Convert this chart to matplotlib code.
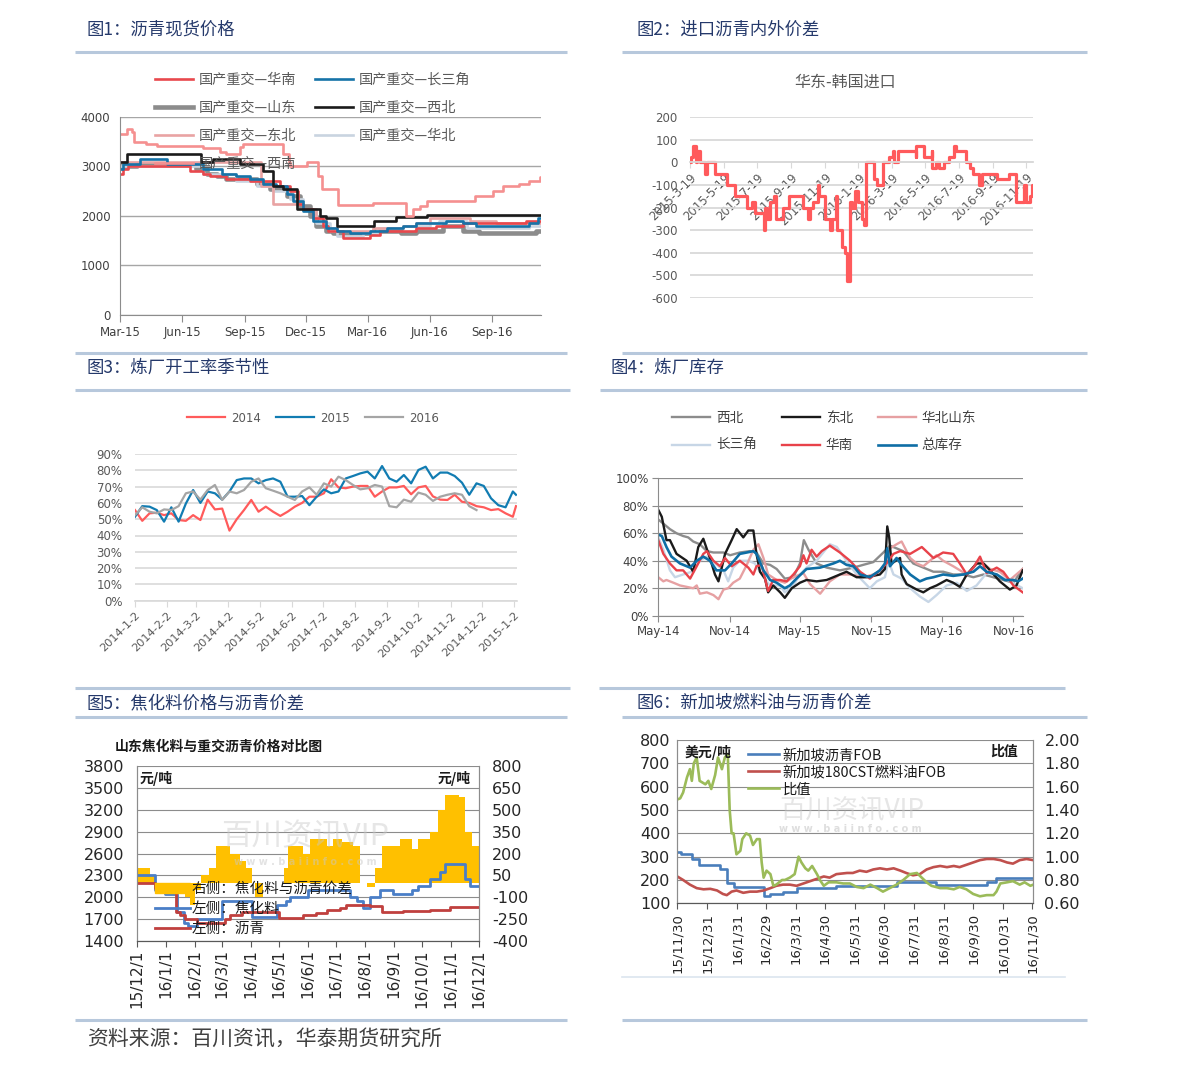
import numpy as np
import matplotlib
matplotlib.use('Agg')
import matplotlib.pyplot as plt
from matplotlib.lines import Line2D
from matplotlib.patches import Patch

plt.rcParams['font.family'] = ['DejaVu Sans', 'Noto Sans CJK SC']
plt.rcParams['axes.unicode_minus'] = False
CJK = ['Noto Sans CJK SC', 'DejaVu Sans']

W, H = 1191, 1069

# ---------------- Fig 1: 沥青现货价格 (days since 2015-03-01, step series) ----------------
p1_base = '2015-03-01'
p1_end = 622
p1_hn_d = [0,5,12,103,123,133,157,192,236,251,263,271,285,300,307,330,369,384,438,467,507,600]
p1_hn_v = [2850,2950,3000,2900,2850,2800,2750,2700,2600,2500,2250,2150,1950,1800,1700,1550,1620,1700,1750,1800,1850,1900]
p1_csj_d = [0,5,30,69,123,150,172,192,212,231,246,256,271,285,305,320,340,369,394,418,438,482,507,526,605,618]
p1_csj_v = [2950,3050,3150,3050,2950,2850,2800,2750,2650,2600,2450,2300,2100,1900,1750,1700,1650,1700,1750,1800,1850,1900,1850,1800,1850,1950]
p1_sd_d = [0,25,113,128,143,157,202,221,246,266,280,290,305,315,374,415,438,477,507,531,615]
p1_sd_v = [3000,3050,2950,2850,2800,2750,2650,2550,2400,2200,2000,1800,1700,1650,1700,1650,1700,1800,1700,1650,1700]
p1_xb_d = [0,10,120,138,177,212,226,241,261,295,305,320,376,408,453]
p1_xb_v = [3100,3250,3100,3150,3050,2900,2600,2550,2150,2000,1950,1800,1900,1980,2030]
p1_db_d = [0,209,226,271,290,305,320,374,418,438,458,517,556]
p1_db_v = [3100,2600,2250,2150,1950,1750,1700,1750,1800,1850,1950,1900,1850]
p1_hb_d = [0,123,172,202,226,251,271,290,310,320,359,379,418,458,472,512,605]
p1_hb_v = [3000,2850,2700,2600,2500,2350,2150,1850,1700,1600,1650,1750,1800,1850,1900,1750,1800]
p1_xn_d = [0,10,17,20,39,54,123,148,157,177,182,241,249,251,276,292,298,322,374,423,433,443,453,524,551,566,590,605,620]
p1_xn_v = [3650,3750,3700,3500,3450,3420,3380,3300,3250,3400,3450,3250,3100,3000,3100,2800,2550,2230,2270,2000,2150,2200,2300,2400,2500,2600,2650,2700,2780]
p1_ticks = ['2015-03-01','2015-06-01','2015-09-01','2015-12-01','2016-03-01','2016-06-01','2016-09-01']
p1_ticklabels = ['Mar-15','Jun-15','Sep-15','Dec-15','Mar-16','Jun-16','Sep-16']

# ---------------- Fig 2: 华东-韩国进口 (days since 2015-03-19) ----------------
p2_base = '2015-03-19'
p2_end = 623
p2_d = [0,1,6,11,13,18,27,31,45,68,82,103,112,118,134,137,139,145,152,157,169,180,206,215,218,224,232,235,245,255,258,265,267,276,282,286,290,295,300,306,312,316,319,334,339,351,362,368,370,378,410,411,425,439,440,447,453,461,471,480,483,501,509,514,525,531,557,580,593,607,611,617,621]
p2_v = [0,25,75,0,50,0,-50,0,-50,-100,-150,-200,-175,-225,-300,-200,-250,-175,-150,-250,-200,-150,-200,-250,-200,-175,-100,-150,-250,-300,-250,-150,-300,-375,-400,-525,-175,-200,-125,-175,-250,-275,0,-75,-100,0,25,50,0,50,25,75,25,50,-25,0,-25,0,25,75,50,0,-25,-50,-100,-50,-75,-50,-175,-100,-175,-150,-100]
p2_last = -125
p2_ticks = ['2015-03-19','2015-05-19','2015-07-19','2015-09-19','2015-11-19','2016-01-19','2016-03-19','2016-05-19','2016-07-19','2016-09-19','2016-11-19']
p2_ticklabels = ['2015-3-19','2015-5-19','2015-7-19','2015-9-19','2015-11-19','2016-1-19','2016-3-19','2016-5-19','2016-7-19','2016-9-19','2016-11-19']

# ---------------- Fig 3: 开工率 (weekly from 2014-01-02, %) ----------------
p3_base = '2014-01-02'
p3_2014 = [55.6,49,53.6,54,52.5,53.6,49.5,49,52.5,49.5,62,56,56.5,43,50,55.6,61.8,54.6,57.7,54.6,52,54.6,57.7,60,63.8,63.8,65.9,74.5,69.5,69,70,70.4,70.4,63.8,67,69.5,69.5,70.4,65.3,69.5,70.4,64,62,61.8,65,60.7,60,58,57.3,55.6,56.2,53.6,51.5,58]
p3_2015 = [51.5,58,57.7,55.6,48.5,57.3,48.5,59.6,67.9,60,67,65.9,62,67,74,75,75,72,74,75,73,63.8,63.8,64.2,58.6,63.8,68.3,65.9,67,75,76.5,78.1,79.2,75,82.6,75,73,77.1,72,80.2,82.2,75,78.6,78.6,76.5,72.4,65,72,70.4,62.8,58.6,57.3,67,65]
p3_2016 = [52.5,57.3,54.6,53.6,56,55.6,58,65.9,67,62,67.9,71,61.8,67,65.9,67.9,73,75,69,67.5,65.9,63.8,61.8,67,69.5,65,72,70,76.1,74,71,68.3,69,71,70,58,57.3,62,60.7,66.3,65,61.2,63.8,65,65.9,65,58,55.6]
p3_ticks = ['2014-01-02','2014-02-02','2014-03-02','2014-04-02','2014-05-02','2014-06-02','2014-07-02','2014-08-02','2014-09-02','2014-10-02','2014-11-02','2014-12-02','2015-01-02']
p3_ticklabels = ['2014-1-2','2014-2-2','2014-3-2','2014-4-2','2014-5-2','2014-6-2','2014-7-2','2014-8-2','2014-9-2','2014-10-2','2014-11-2','2014-12-2','2015-1-2']
p3_yticks = [0,10,20,30,40,50,60,70,80,90]

# ---------------- Fig 4: 炼厂库存 (days since 2014-05-01, %) ----------------
p4_base = '2014-05-01'
p4_end = 939
p4_xb_d = [0,13,30,47,64,77,90,107,125,142,168,185,210,236,253,271,288,305,326,348,365,375,387,408,434,468,503,528,554,580,597,614,631,657,683,709,734,760,786,812,838,863,889,915,939]
p4_xb_v = [70,67,63,60,58,57,54,52,47,46,46,44,46,47,46,38,37,34,27,28,38,55,48,38,35,33,35,37,39,46,51,49,47,38,35,32,32,30,30,28,30,28,26,24,34]
p4_db_d = [0,9,21,30,47,73,90,103,116,133,146,155,172,189,202,219,232,245,253,262,275,283,296,314,326,344,365,382,408,434,468,485,511,537,571,584,590,595,601,623,627,640,666,683,700,717,743,760,777,795,820,838,855,880,906,923,939]
p4_db_v = [77,72,55,55,45,40,32,50,56,42,30,25,45,55,63,57,62,62,45,32,27,17,22,17,13,20,24,26,25,26,30,32,28,28,30,34,65,57,38,42,30,23,19,17,20,22,26,24,21,30,38,38,33,25,19,22,33]
p4_hbsd_d = [0,13,21,39,56,73,90,99,107,125,142,155,168,180,193,210,228,245,258,271,283,305,326,348,374,391,417,442,468,494,528,554,580,597,614,627,649,666,683,700,717,734,760,795,829,855,880,906,939]
p4_hbsd_v = [28,25,26,24,22,21,20,22,16,17,15,12,19,20,24,27,37,48,52,42,30,26,24,28,31,23,16,25,30,30,28,30,34,49,52,54,42,38,36,40,44,40,36,30,40,34,32,26,34]
p4_csj_d = [0,13,30,43,64,86,107,125,146,168,180,193,210,232,249,271,288,314,326,348,365,382,408,442,460,485,511,545,563,584,593,606,627,649,674,696,717,743,769,795,820,846,872,906,939]
p4_csj_v = [57,48,33,28,30,32,40,43,38,33,25,35,40,40,38,28,22,22,17,22,30,35,40,52,50,40,30,20,25,28,40,30,27,20,14,10,15,22,24,18,22,31,30,25,20]
p4_hn_d = [0,13,30,47,64,82,99,116,125,142,159,172,189,210,232,245,253,266,283,296,314,331,348,365,374,382,395,408,421,442,468,494,520,545,567,588,606,623,649,679,709,734,760,777,795,812,829,846,872,889,915,939]
p4_hn_v = [55,45,38,33,33,27,36,45,47,40,36,42,36,40,35,30,36,37,18,26,26,25,30,36,44,38,48,43,47,51,46,40,32,27,32,38,45,47,45,50,42,46,45,38,30,35,43,31,35,32,22,17]
p4_zk_d = [0,9,21,34,56,82,99,116,133,150,172,189,210,228,245,253,271,288,305,326,339,356,382,417,451,468,485,503,520,545,571,584,590,597,614,627,649,674,691,709,734,760,786,812,829,846,872,893,915,927,939]
p4_zk_v = [59,58,50,43,38,35,40,43,40,33,33,38,45,46,47,45,33,26,24,20,22,27,34,35,38,40,37,36,30,28,33,38,49,36,42,37,30,25,27,28,30,29,30,32,36,32,30,26,26,25,27]
p4_ticks = ['2014-05-01','2014-11-01','2015-05-01','2015-11-01','2016-05-01','2016-11-01']
p4_ticklabels = ['May-14','Nov-14','May-15','Nov-15','May-16','Nov-16']
p4_yticks = [0,20,40,60,80,100]

# ---------------- Fig 5: 山东焦化料与重交沥青 (days since 2015-12-01) ----------------
p5_base = '2015-12-01'
p5_end = 366
p5_lq_d = [0,20,42,46,52,64,94,100,112,152,178,192,203,217,224,249,262,285,313,335]
p5_lq_v = [2200,2130,1800,1750,1700,1650,1700,1750,1800,1720,1750,1780,1820,1850,1900,1880,1800,1810,1830,1860]
p5_jhl_d = [0,20,30,43,50,55,64,91,123,150,160,164,183,228,235,242,249,260,274,294,301,313,324,329,351,356]
p5_jhl_v = [2300,2100,2050,1800,1650,1600,1700,1950,1730,1900,1950,2000,2100,2000,1950,1850,2000,2100,2050,2100,2150,2250,2350,2450,2250,2150]
p5_jc_d = [0,14,21,46,52,57,62,69,77,85,100,110,117,123,126,135,150,157,162,178,185,203,210,219,231,239,246,255,262,281,294,301,313,322,329,344,351,358]
p5_jc_v = [100,50,-50,-10,-100,-150,-50,50,100,250,200,150,100,0,-100,0,0,100,250,200,300,250,300,280,250,0,-30,100,250,300,230,300,350,500,600,590,350,250]
p5_ticks = ['2015-12-01','2016-01-01','2016-02-01','2016-03-01','2016-04-01','2016-05-01','2016-06-01','2016-07-01','2016-08-01','2016-09-01','2016-10-01','2016-11-01','2016-12-01']
p5_ticklabels = ['15/12/1','16/1/1','16/2/1','16/3/1','16/4/1','16/5/1','16/6/1','16/7/1','16/8/1','16/9/1','16/10/1','16/11/1','16/12/1']
p5_left_ticks = [1400,1700,2000,2300,2600,2900,3200,3500,3800]
p5_right_ticks = [-400,-250,-100,50,200,350,500,650,800]

# ---------------- Fig 6: 新加坡 (days since 2015-11-30) ----------------
p6_base = '2015-11-30'
p6_end = 367
p6_lq_d = [0,4,15,22,44,51,58,89,96,109,123,164,226,267,319,329]
p6_lq_v = [320,310,290,265,245,185,170,130,140,150,165,175,190,180,190,210]
p6_ry_d = [0,6,13,20,27,34,41,47,51,56,61,68,75,82,89,96,102,109,116,123,130,137,144,151,157,164,175,181,188,195,202,209,216,223,230,236,243,250,257,264,271,278,285,291,298,305,312,319,326,333,340,346,353,360,367]
p6_ry_v = [215,200,180,165,160,162,155,140,135,150,155,145,150,150,155,165,175,180,180,175,185,195,205,215,210,225,230,230,240,235,245,250,245,250,240,230,220,225,245,255,260,255,260,255,265,275,285,290,290,285,275,270,285,290,285]
p6_bz_d = [0,3,6,10,13,15,17,20,23,29,32,35,39,42,46,49,52,54,56,58,61,65,67,71,75,78,82,85,87,89,92,96,99,102,108,111,116,121,125,128,132,135,139,144,147,151,156,164,171,178,185,192,199,206,212,219,226,233,240,247,252,257,262,271,278,285,291,298,305,312,319,326,329,333,340,346,353,358,364,367]
p6_bz_v = [1.49,1.50,1.55,1.68,1.75,1.65,1.80,1.85,1.65,1.62,1.65,1.58,1.70,1.85,1.75,1.85,1.88,1.40,1.20,1.20,1.02,1.05,1.15,1.20,1.18,1.10,1.15,1.15,0.95,0.82,0.88,0.85,0.75,0.76,0.80,0.80,0.82,0.85,1.00,0.95,0.90,0.88,0.92,0.85,0.80,0.75,0.78,0.78,0.77,0.77,0.74,0.73,0.76,0.73,0.70,0.73,0.76,0.80,0.85,0.86,0.82,0.78,0.75,0.73,0.73,0.72,0.74,0.72,0.68,0.66,0.67,0.67,0.70,0.77,0.78,0.79,0.76,0.78,0.75,0.76]
p6_ticks = ['2015-11-30','2015-12-31','2016-01-31','2016-02-29','2016-03-31','2016-04-30','2016-05-31','2016-06-30','2016-07-31','2016-08-31','2016-09-30','2016-10-31','2016-11-30']
p6_ticklabels = ['15/11/30','15/12/31','16/1/31','16/2/29','16/3/31','16/4/30','16/5/31','16/6/30','16/7/31','16/8/31','16/9/30','16/10/31','16/11/30']
p6_left_ticks = [100,200,300,400,500,600,700,800]
p6_right_ticks = [0.6,0.8,1.0,1.2,1.4,1.6,1.8,2.0]


# ---------------- helpers ----------------
def R(l, t, r, b):
    return [l / W, 1 - b / H, (r - l) / W, (b - t) / H]

def FX(x):
    return x / W

def FY(y):
    return 1 - y / H

def dates(base, days):
    return np.datetime64(base, 'D') + np.asarray(days, dtype=int).astype('timedelta64[D]')

def tickdates(lst):
    return np.array(lst, dtype='datetime64[D]')

def step(ax, base, d, v, end, last=None, **kw):
    vv = list(v) + [v[-1] if last is None else last]
    return ax.plot(dates(base, list(d) + [end]), vv, drawstyle='steps-post', **kw)[0]


fig = plt.figure(figsize=(W / 100, H / 100), dpi=100)
fig.patch.set_facecolor('white')

NAVY = '#25396B'
SEP = '#B7C8DC'

# section titles
for x, y, s in [(87, 30, '图1：沥青现货价格'), (636, 30, '图2：进口沥青内外价差'),
                (87, 368, '图3：炼厂开工率季节性'), (611, 368, '图4：炼厂库存'),
                (87, 703, '图5：焦化料价格与沥青价差'), (636, 703, '图6：新加坡燃料油与沥青价差')]:
    fig.text(FX(x), FY(y), s, family=CJK, fontsize=12.5, color=NAVY, ha='left', va='center')

# separators
for y, x0, x1 in [(52, 75, 567), (52, 622, 1087), (353, 75, 567), (353, 622, 1087),
                  (390, 75, 570), (390, 600, 1087), (688, 75, 570), (688, 599, 1065),
                  (717, 75, 567), (717, 622, 1087), (1020, 75, 567), (1020, 622, 1087)]:
    fig.add_artist(Line2D([FX(x0), FX(x1)], [FY(y), FY(y)], transform=fig.transFigure,
                          color=SEP, lw=2.2, solid_capstyle='butt'))
fig.add_artist(Line2D([FX(622), FX(1065)], [FY(977), FY(977)], transform=fig.transFigure,
                      color='#DCE5EF', lw=1.2))

fig.text(FX(87), FY(1039), '资料来源：百川资讯，华泰期货研究所', family=CJK, fontsize=15,
         color='#404040', ha='left', va='center')

# ================= Fig 1 =================
ax1 = fig.add_axes(R(120, 117, 541, 315))
l_sd = step(ax1, p1_base, p1_sd_d, p1_sd_v, p1_end, color='#8C8C8C', lw=3.3)
l_hb = step(ax1, p1_base, p1_hb_d, p1_hb_v, p1_end, color='#C9D4E0', lw=1.9)
l_db = step(ax1, p1_base, p1_db_d, p1_db_v, p1_end, color='#E9A3A3', lw=1.9)
l_hn = step(ax1, p1_base, p1_hn_d, p1_hn_v, p1_end, color='#E8484D', lw=1.9)
l_csj = step(ax1, p1_base, p1_csj_d, p1_csj_v, p1_end, color='#1673A8', lw=1.9)
l_xb = step(ax1, p1_base, p1_xb_d, p1_xb_v, p1_end, color='#1A1A1A', lw=1.9)
l_xn = step(ax1, p1_base, p1_xn_d, p1_xn_v, p1_end, color='#F59090', lw=1.9)
ax1.set_ylim(0, 4000)
ax1.set_yticks([0, 1000, 2000, 3000, 4000])
ax1.set_xlim(dates(p1_base, [0])[0], dates(p1_base, [p1_end])[0])
ax1.set_xticks(tickdates(p1_ticks))
ax1.set_xticklabels(p1_ticklabels)
ax1.grid(axis='y', color='#A6A6A6', lw=1)
ax1.set_axisbelow(True)
for s in ['top', 'right']:
    ax1.spines[s].set_visible(False)
for s in ['left', 'bottom']:
    ax1.spines[s].set_color('#8C8C8C')
ax1.tick_params(axis='x', direction='out', length=5, color='#8C8C8C', labelsize=8.5, labelcolor='#404040', pad=3)
ax1.tick_params(axis='y', length=0, labelsize=8.5, labelcolor='#404040', pad=7)
ax1.legend([l_hn, l_sd, l_db, l_xn, l_csj, l_xb, l_hb],
           ['国产重交—华南', '国产重交—山东', '国产重交—东北', '国产重交—西南',
            '国产重交—长三角', '国产重交—西北', '国产重交—华北'],
           ncol=2, loc='upper left', bbox_to_anchor=(FX(155), FY(73)), bbox_transform=fig.transFigure,
           frameon=False, prop={'family': CJK, 'size': 10.2}, labelcolor='#595959',
           handlelength=2.7, handletextpad=0.4, columnspacing=1.3, labelspacing=0.98,
           borderpad=0, borderaxespad=0)

# ================= Fig 2 =================
fig.text(FX(845), FY(82), '华东-韩国进口', family=CJK, fontsize=11.5, color='#595959', ha='center', va='center')
ax2 = fig.add_axes(R(690, 117.3, 1033, 298))
step(ax2, p2_base, p2_d, p2_v, p2_end, last=p2_last, color='#FF5A5C', lw=2.3)
ax2.set_ylim(-600, 200)
ax2.set_yticks(np.arange(-600, 201, 100))
ax2.set_xlim(dates(p2_base, [0])[0], dates(p2_base, [p2_end])[0])
ax2.grid(axis='y', color='#D9D9D9', lw=1.3)
ax2.set_axisbelow(True)
for s in ['top', 'right', 'left']:
    ax2.spines[s].set_visible(False)
ax2.spines['bottom'].set_position(('data', 0))
ax2.spines['bottom'].set_color('#D9D9D9')
ax2.spines['bottom'].set_linewidth(1.3)
ax2.set_xticks(tickdates(p2_ticks))
ax2.set_xticklabels(p2_ticklabels, rotation=45, ha='right', rotation_mode='anchor')
ax2.tick_params(axis='x', direction='out', length=4, color='#D9D9D9', labelsize=8.4, labelcolor='#595959', pad=2)
ax2.tick_params(axis='y', length=0, labelsize=8.5, labelcolor='#595959', pad=9)

# ================= Fig 3 =================
ax3 = fig.add_axes(R(135, 454, 517, 600.7))
x14 = np.concatenate([dates(p3_base, np.arange(53) * 7), dates(p3_base, [367])])
x16 = dates(p3_base, np.arange(len(p3_2016)) * 7)
a14, = ax3.plot(x14, p3_2014, color='#FF5B5B', lw=1.6)
a15, = ax3.plot(x14, p3_2015, color='#117CB2', lw=1.6)
a16, = ax3.plot(x16, p3_2016, color='#A5A5A5', lw=1.6)
ax3.set_ylim(0, 90)
ax3.set_yticks(p3_yticks)
ax3.set_yticklabels([f'{v}%' for v in p3_yticks])
ax3.set_xlim(dates(p3_base, [0])[0], dates(p3_base, [368])[0])
ax3.set_xticks(tickdates(p3_ticks))
ax3.set_xticklabels(p3_ticklabels, rotation=45, ha='right', rotation_mode='anchor')
ax3.grid(axis='y', color='#D9D9D9', lw=1.2)
ax3.set_axisbelow(True)
for s in ['top', 'right', 'left']:
    ax3.spines[s].set_visible(False)
ax3.spines['bottom'].set_color('#D9D9D9')
ax3.spines['bottom'].set_linewidth(1.2)
ax3.tick_params(axis='x', direction='out', length=4, color='#D9D9D9', labelsize=8.2, labelcolor='#595959', pad=3)
ax3.tick_params(axis='y', length=0, labelsize=8.5, labelcolor='#595959', pad=9)
ax3.legend([a14, a15, a16], ['2014', '2015', '2016'], ncol=3, loc='center',
           bbox_to_anchor=(FX(313), FY(418)), bbox_transform=fig.transFigure, frameon=False,
           fontsize=8.5, labelcolor='#595959', handlelength=3.2, handletextpad=0.5,
           columnspacing=1.3, borderpad=0)

# ================= Fig 4 =================
ax4 = fig.add_axes(R(658.3, 478.3, 1022.7, 615.7))
b_xb, = ax4.plot(dates(p4_base, p4_xb_d), p4_xb_v, color='#8C8C8C', lw=1.7)
b_csj, = ax4.plot(dates(p4_base, p4_csj_d), p4_csj_v, color='#C7D6E6', lw=1.7)
b_hbsd, = ax4.plot(dates(p4_base, p4_hbsd_d), p4_hbsd_v, color='#E6A0A2', lw=1.7)
b_db, = ax4.plot(dates(p4_base, p4_db_d), p4_db_v, color='#1A1A1A', lw=1.7)
b_hn, = ax4.plot(dates(p4_base, p4_hn_d), p4_hn_v, color='#E8424A', lw=1.7)
b_zk, = ax4.plot(dates(p4_base, p4_zk_d), p4_zk_v, color='#0E6EA5', lw=1.9)
ax4.set_ylim(0, 100)
ax4.set_yticks(p4_yticks)
ax4.set_yticklabels([f'{v}%' for v in p4_yticks])
ax4.set_xlim(dates(p4_base, [0])[0], dates(p4_base, [p4_end])[0])
ax4.set_xticks(tickdates(p4_ticks))
ax4.set_xticklabels(p4_ticklabels)
ax4.grid(axis='y', color='#8C8C8C', lw=0.9)
ax4.set_axisbelow(True)
for s in ['top', 'right']:
    ax4.spines[s].set_visible(False)
for s in ['left', 'bottom']:
    ax4.spines[s].set_color('#8C8C8C')
ax4.tick_params(axis='both', direction='out', length=4, color='#8C8C8C', labelsize=8.5, labelcolor='#404040')
ax4.tick_params(axis='y', pad=3)
ax4.tick_params(axis='x', pad=3)
ax4.legend([b_xb, b_csj, b_db, b_hn, b_hbsd, b_zk], ['西北', '长三角', '东北', '华南', '华北山东', '总库存'],
           ncol=3, loc='upper left', bbox_to_anchor=(FX(672), FY(411)), bbox_transform=fig.transFigure,
           frameon=False, prop={'family': CJK, 'size': 9.8}, labelcolor='#404040',
           handlelength=2.8, handletextpad=0.45, columnspacing=1.8, labelspacing=0.98,
           borderpad=0, borderaxespad=0)

# ================= Fig 5 =================
fig.text(FX(115), FY(747), '山东焦化料与重交沥青价格对比图', family=CJK, fontsize=10, fontweight='bold',
         color='#1A1A1A', ha='left', va='center')
ax5 = fig.add_axes(R(136.7, 766, 479.3, 941))
ax5b = ax5.twinx()
ax5b.set_ylim(-400, 800)
ax5b.set_yticks(p5_right_ticks)
ax5b.grid(axis='y', color='#8C8C8C', lw=0.8)
ax5b.set_axisbelow(True)
ax5b.fill_between(dates(p5_base, p5_jc_d + [p5_end]), 0, p5_jc_v + [p5_jc_v[-1]], step='post',
                  color='#FFC000', lw=0, zorder=2)
ax5.set_zorder(ax5b.get_zorder() + 1)
ax5.patch.set_visible(False)
c_jhl = step(ax5, p5_base, p5_jhl_d, p5_jhl_v, p5_end, color='#4A7EC7', lw=2.0)
c_lq = step(ax5, p5_base, p5_lq_d, p5_lq_v, p5_end, color='#C0403E', lw=2.0)
ax5.set_ylim(1400, 3800)
ax5.set_yticks(p5_left_ticks)
ax5.set_xlim(dates(p5_base, [0])[0], dates(p5_base, [p5_end])[0])
ax5.set_xticks(tickdates(p5_ticks))
ax5.set_xticklabels(p5_ticklabels, rotation=90)
for a in (ax5, ax5b):
    a.spines['top'].set_visible(False)
    a.spines['left'].set_color('#8C8C8C')
    a.spines['right'].set_color('#8C8C8C')
    a.spines['bottom'].set_color('#595959')
ax5.tick_params(axis='y', length=0, labelsize=11.5, labelcolor='#262626', pad=9)
ax5b.tick_params(axis='y', length=0, labelsize=11.5, labelcolor='#262626', pad=9)
ax5.tick_params(axis='x', direction='out', length=4, color='#595959', labelsize=11, labelcolor='#262626', pad=2)
fig.text(FX(140), FY(778), '元/吨', family=CJK, fontsize=10, fontweight='bold', color='#1A1A1A', ha='left', va='center')
fig.text(FX(471), FY(778), '元/吨', family=CJK, fontsize=10, fontweight='bold', color='#1A1A1A', ha='right', va='center')
fig.text(FX(305), FY(837), '百川资讯VIP', family=CJK, fontsize=22, color='#C8C8C8', alpha=0.45, ha='center', va='center', zorder=5)
fig.text(FX(305), FY(862), 'w w w . b a i i n f o . c o m', fontsize=7, fontweight='bold', color='#C8C8C8', alpha=0.5, ha='center', va='center', zorder=5)
ax5.legend([Patch(color='#FFC000'), c_jhl, c_lq], ['右侧：焦化料与沥青价差', '左侧：焦化料', '左侧：沥青'],
           loc='upper left', bbox_to_anchor=(FX(155), FY(882)), bbox_transform=fig.transFigure,
           frameon=False, prop={'family': CJK, 'size': 10.5}, labelcolor='#1A1A1A',
           handlelength=2.4, handletextpad=0.1, labelspacing=0.42, borderpad=0, borderaxespad=0)

# ================= Fig 6 =================
ax6 = fig.add_axes(R(677.3, 740, 1033.3, 903.3))
ax6b = ax6.twinx()
e_lq = ax6.plot(dates(p6_base, p6_lq_d + [p6_end]), p6_lq_v + [p6_lq_v[-1]], drawstyle='steps-post', color='#4A7EBB', lw=1.9)[0]
e_ry, = ax6.plot(dates(p6_base, p6_ry_d), p6_ry_v, color='#C0504D', lw=1.9)
e_bz, = ax6b.plot(dates(p6_base, p6_bz_d), p6_bz_v, color='#9BBB59', lw=1.9)
ax6.set_ylim(100, 800)
ax6.set_yticks(p6_left_ticks)
ax6b.set_ylim(0.6, 2.0)
ax6b.set_yticks(p6_right_ticks)
ax6b.set_yticklabels([f'{v:.2f}' for v in p6_right_ticks])
ax6.set_xlim(dates(p6_base, [0])[0], dates(p6_base, [p6_end])[0])
ax6.set_xticks(tickdates(p6_ticks))
ax6.set_xticklabels(p6_ticklabels, rotation=90)
ax6.grid(axis='y', color='#8C8C8C', lw=0.8)
ax6.set_axisbelow(True)
for a in (ax6, ax6b):
    a.spines['top'].set_visible(False)
    a.spines['left'].set_color('#8C8C8C')
    a.spines['right'].set_color('#8C8C8C')
    a.spines['bottom'].set_color('#595959')
ax6.tick_params(axis='y', length=0, labelsize=11.5, labelcolor='#262626', pad=5)
ax6b.tick_params(axis='y', length=0, labelsize=11.5, labelcolor='#262626', pad=8)
ax6.tick_params(axis='x', direction='out', length=4, color='#595959', labelsize=9.5, labelcolor='#262626', pad=3)
fig.text(FX(685), FY(753), '美元/吨', family=CJK, fontsize=10, fontweight='bold', color='#1A1A1A', ha='left', va='center')
fig.text(FX(990), FY(752), '比值', family=CJK, fontsize=10, fontweight='bold', color='#1A1A1A', ha='left', va='center')
fig.text(FX(852), FY(811), '百川资讯VIP', family=CJK, fontsize=19, color='#C8C8C8', alpha=0.45, ha='center', va='center', zorder=5)
fig.text(FX(850), FY(829), 'w w w . b a i i n f o . c o m', fontsize=7, fontweight='bold', color='#C8C8C8', alpha=0.6, ha='center', va='center', zorder=5)
ax6b.legend([e_lq, e_ry, e_bz], ['新加坡沥青FOB', '新加坡180CST燃料油FOB', '比值'],
            loc='upper left', bbox_to_anchor=(FX(748), FY(748)), bbox_transform=fig.transFigure,
            frameon=False, prop={'family': CJK, 'size': 10.3}, labelcolor='#1A1A1A',
            handlelength=2.2, handletextpad=0.2, labelspacing=0.22, borderpad=0, borderaxespad=0)

fig.savefig('out.png', dpi=100, facecolor='white')
